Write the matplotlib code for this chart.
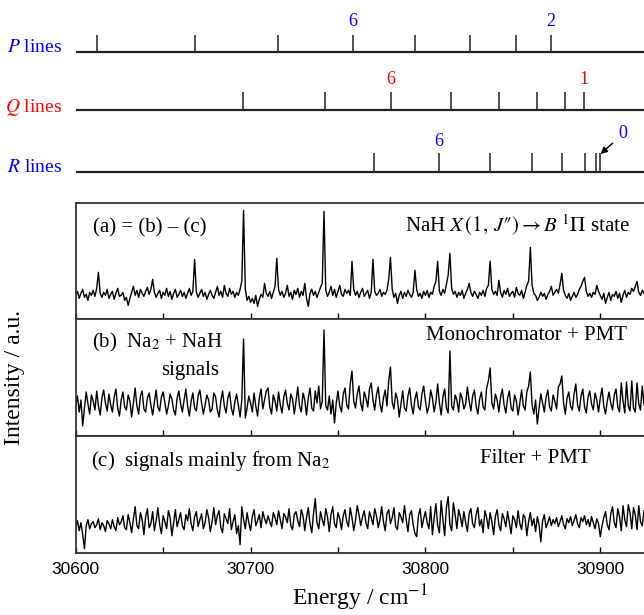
import numpy as np
import matplotlib
matplotlib.use('Agg')
import matplotlib.pyplot as plt
from matplotlib.ticker import MultipleLocator
from matplotlib.transforms import blended_transform_factory

plt.rcParams['font.family'] = ['Liberation Serif', 'DejaVu Serif']
plt.rcParams['mathtext.fontset'] = 'stix'

# ---------------- data ----------------
# line positions (cm^-1)
P_J = [2, 3, 4, 5, 6, 7, 8, 9]
P_lines = [30871.9, 30851.9, 30825.7, 30794.2, 30758.6, 30715.8, 30668.0, 30612.3]
Q_J = [1, 2, 3, 4, 5, 6, 7, 8]
Q_lines = [30890.7, 30879.9, 30863.7, 30841.9, 30814.6, 30780.2, 30742.6, 30695.9]
R_J = [0, 1, 2, 3, 4, 5, 6, 7]
R_lines = [30900.1, 30897.7, 30891.4, 30878.0, 30861.1, 30837.2, 30807.6, 30770.5]

# spectra, one point per cm^-1 starting at 30600
E_start = 30600
E_step = 1.0

spec_a = [
    24, 28, 21, 26, 30, 22, 25, 19, 27, 24,
    29, 23, 31, 47, 26, 22, 27, 24, 30, 21,
    25, 28, 20, 26, 31, 23, 24, 27, 19, 22,
    14, 21, 27, 33, 24, 29, 22, 30, 26, 23,
    28, 32, 25, 30, 40, 27, 22, 26, 29, 21,
    27, 24, 31, 23, 28, 20, 26, 30, 22, 25,
    29, 23, 27, 21, 26, 31, 24, 28, 60, 27,
    22, 26, 30, 23, 27, 20, 25, 29, 24, 21,
    27, 33, 24, 28, 22, 34, 26, 23, 31, 25,
    28, 22, 27, 24, 30, 38, 109, 30, 19, 23,
    17, 21, 16, 24, 13, 20, 25, 22, 36, 26,
    23, 28, 21, 27, 33, 61, 30, 24, 28, 22,
    26, 34, 23, 27, 20, 29, 25, 31, 22, 28,
    24, 36, 21, 13, 26, 30, 24, 28, 22, 27,
    32, 36, 108, 29, 23, 27, 33, 24, 30, 22,
    28, 34, 25, 23, 30, 26, 29, 24, 58, 30,
    24, 28, 22, 27, 31, 23, 26, 29, 21, 27,
    60, 28, 24, 26, 30, 23, 27, 25, 29, 40,
    62, 30, 22, 26, 16, 24, 28, 21, 27, 23,
    29, 25, 22, 27, 49, 30, 23, 26, 21, 28,
    24, 29, 22, 27, 25, 33, 38, 58, 28, 24,
    30, 26, 35, 44, 66, 31, 25, 28, 22, 27,
    24, 29, 21, 26, 30, 36, 27, 23, 28, 25,
    21, 27, 24, 29, 23, 31, 34, 58, 30, 25,
    28, 24, 39, 27, 22, 29, 25, 31, 23, 26,
    28, 22, 32, 26, 24, 29, 21, 27, 34, 38,
    72, 34, 26, 24, 19, 22, 27, 23, 26, 20,
    25, 28, 33, 24, 27, 30, 26, 35, 46, 29,
    24, 21, 26, 19, 23, 27, 22, 25, 30, 33,
    38, 42, 28, 23, 26, 22, 27, 25, 34, 28,
    24, 20, 26, 16, 22, 27, 19, 25, 23, 28,
    21, 26, 17, 24, 29, 22, 27, 25, 31, 28,
    33, 38, 27, 24, 29, 26,
]

spec_b = [
    30, 40, 24, 36, 10, 28, 44, 32, 22, 41,
    35, 26, 45, 30, 21, 38, 46, 33, 25, 42,
    31, 24, 39, 47, 28, 20, 36, 44, 29, 26,
    41, 35, 19, 33, 48, 30, 22, 40, 45, 27,
    24, 38, 43, 31, 21, 34, 46, 29, 25, 39,
    44, 33, 22, 30, 42, 37, 26, 21, 38, 45,
    32, 24, 36, 47, 30, 20, 35, 43, 28, 25,
    40, 46, 33, 22, 31, 41, 36, 24, 27, 43,
    39, 26, 19, 35, 45, 30, 23, 38, 44, 28,
    21, 34, 42, 31, 19, 36, 97, 18, 28, 40,
    33, 24, 43, 30, 20, 38, 47, 27, 36, 45,
    48, 29, 22, 41, 35, 25, 44, 31, 23, 39,
    46, 33, 26, 42, 37, 22, 35, 49, 30, 24,
    43, 36, 21, 38, 48, 28, 25, 45, 33, 50,
    27, 35, 106, 30, 26, 40, 22, 36, 13, 33,
    45, 30, 24, 42, 48, 31, 27, 52, 65, 35,
    28, 42, 50, 33, 25, 44, 38, 29, 47, 53,
    36, 26, 41, 49, 32, 24, 38, 46, 30, 55,
    69, 34, 27, 43, 37, 19, 32, 45, 28, 25,
    40, 48, 31, 22, 37, 44, 29, 26, 42, 50,
    35, 23, 30, 46, 38, 24, 34, 52, 33, 21,
    39, 47, 28, 23, 85, 30, 26, 41, 36, 24,
    43, 38, 27, 32, 49, 35, 25, 40, 46, 30,
    22, 37, 44, 29, 26, 48, 55, 68, 33, 27,
    42, 36, 24, 39, 47, 31, 23, 38, 45, 28,
    25, 41, 35, 21, 33, 46, 30, 26, 44, 50,
    64, 31, 22, 36, 12, 28, 42, 33, 24, 39,
    46, 29, 25, 41, 35, 27, 49, 52, 60, 33,
    22, 38, 44, 30, 26, 42, 52, 31, 25, 40,
    47, 29, 23, 39, 45, 32, 26, 43, 36, 24,
    38, 48, 30, 22, 35, 44, 33, 26, 41, 47,
    29, 24, 53, 35, 23, 54, 30, 25, 55, 28,
    24, 53, 32, 26, 50, 31,
]

spec_c = [
    26, 32, 22, 30, 18, 4, 27, 33, 24, 29,
    31, 25, 28, 34, 23, 30, 27, 21, 32, 29,
    24, 33, 26, 22, 35, 28, 31, 37, 25, 23,
    38, 30, 20, 34, 46, 27, 24, 40, 33, 18,
    36, 44, 25, 29, 41, 22, 32, 45, 28, 19,
    37, 31, 24, 42, 35, 17, 30, 43, 26, 33,
    40, 27, 23, 38, 32, 44, 29, 22, 36, 41,
    26, 33, 39, 24, 30, 43, 35, 21, 31, 45,
    28, 37, 42, 25, 20, 39, 34, 29, 44, 23,
    31, 38, 19, 27, 8, 46, 33, 24, 40, 30,
    22, 36, 43, 27, 32, 38, 25, 41, 34, 29,
    37, 31, 26, 40, 35, 28, 42, 33, 24, 39,
    36, 30, 44, 27, 23, 38, 41, 32, 26, 43,
    37, 22, 35, 45, 29, 20, 39, 54, 30, 24,
    41, 33, 27, 44, 36, 21, 38, 46, 29, 25,
    40, 34, 23, 37, 43, 31, 26, 45, 35, 22,
    32, 47, 38, 27, 36, 42, 30, 24, 41, 35,
    28, 44, 37, 25, 33, 46, 31, 22, 39, 43,
    29, 35, 45, 26, 23, 40, 36, 30, 47, 33,
    21, 38, 42, 28, 19, 16, 37, 44, 25, 34,
    41, 30, 24, 46, 18, 35, 49, 27, 20, 52,
    33, 17, 45, 56, 28, 22, 50, 38, 24, 43,
    36, 26, 41, 30, 21, 39, 44, 29, 25, 38,
    45, 27, 33, 20, 42, 35, 24, 40, 31, 18,
    36, 43, 28, 22, 39, 34, 26, 41, 30, 19,
    37, 33, 25, 42, 29, 23, 38, 35, 17, 31,
    40, 27, 34, 21, 36, 28, 11, 32, 38, 25,
    30, 36, 27, 33, 29, 35, 26, 31, 37, 28,
    24, 34, 30, 36, 27, 32, 38, 29, 25, 35,
    31, 37, 28, 33, 26, 36, 30, 24, 34, 29,
    16, 27, 35, 41, 28, 23, 39, 46, 30, 25,
    44, 36, 22, 47, 33, 26, 48, 40, 24, 45,
    38, 23, 47, 31, 27, 42,
]

xticks = [30600, 30700, 30800, 30900]
xmin, xmax = 30600, 30925

energy = E_start + E_step * np.arange(len(spec_a))

# ---------------- figure ----------------
W, H = 644, 615
fig = plt.figure(figsize=(W / 100, H / 100), dpi=100)

left = 75.7 / W
width = 1.0 - left

# stick diagram on top (y in pixel rows, 0 at top)
axt = fig.add_axes([left, 1 - 190 / H, width, 190 / H])
axt.set_xlim(xmin, xmax)
axt.set_ylim(190, 0)
axt.axis('off')
trans = blended_transform_factory(axt.transAxes, axt.transData)

rows = [
    (P_lines, P_J, 52, 17, 48, '$P$ lines', 'blue', {6: 22, 2: 22}),
    (Q_lines, Q_J, 110, 18, 107, '$Q$ lines', 'red', {6: 80, 1: 80}),
    (R_lines, R_J, 172, 19, 167, '$R$ lines', 'blue', {6: 141}),
]
for lines, js, base, h, ylab, label, col, marks in rows:
    axt.axhline(base, color='#222222', lw=1.6)
    axt.vlines(lines, base - h, base, color='#333333', lw=1.2)
    axt.text(-0.024, ylab, label, color=col, fontsize=14,
             ha='right', va='center', transform=trans, clip_on=False)
    for j, yy in marks.items():
        axt.text(lines[js.index(j)], yy, str(j), color=col, fontsize=13,
                 ha='center', va='center')

axt.annotate('0', xy=(R_lines[0], 154), xytext=(30913, 134),
             color='blue', fontsize=13, ha='center', va='center',
             arrowprops=dict(arrowstyle='-|>', color='black', lw=1.0,
                             mutation_scale=10, shrinkA=3, shrinkB=0))

# three stacked spectra
bottom = 1 - 552.7 / H
ph = (552.7 - 202.7) / 3 / H
axes = []
for k in range(3):
    ax = fig.add_axes([left, bottom + (2 - k) * ph, width, ph])
    axes.append(ax)

for ax, spec in zip(axes, [spec_a, spec_b, spec_c]):
    ax.plot(energy, spec, color='black', lw=1.0)
    ax.set_xlim(xmin, xmax)
    ax.set_ylim(0, 116.6)
    ax.set_yticks([])
    ax.xaxis.set_major_locator(MultipleLocator(100))
    ax.xaxis.set_minor_locator(MultipleLocator(50))
    ax.tick_params(axis='x', which='both', direction='in', length=4.5,
                   width=1.0, top=False, bottom=True, labelbottom=False)
    for s in ['left', 'top', 'bottom']:
        ax.spines[s].set_linewidth(1.3)
        ax.spines[s].set_color('#333333')
    ax.spines['right'].set_visible(False)

axc = axes[2]
axc.set_xticks(xticks)
axc.tick_params(axis='x', which='major', labelbottom=True, pad=7)
for lab in axc.get_xticklabels():
    lab.set_fontfamily('Liberation Sans')
    lab.set_fontsize(12.5)
axc.set_xlabel('Energy / cm$^{-1}$', fontsize=17, labelpad=4)

fig.text(15 / W, 1 - 377.7 / H, 'Intensity / a.u.', rotation=90,
         fontsize=17, ha='center', va='center')

axa, axb = axes[0], axes[1]
axa.text(0.030, 0.783, '(a) = (b) \u2013 (c)', fontsize=15,
         transform=axa.transAxes, ha='left', va='center')
axa.text(0.974, 0.809, "NaH $X\\,(1,\\,J\u2033)\\rightarrow B\\ ^{1}\\Pi$ state",
         fontsize=15, transform=axa.transAxes, ha='right', va='center')
axb.text(0.0287, 0.798, '(b)  Na$_2$ + NaH', fontsize=15,
         transform=axb.transAxes, ha='left', va='center')
axb.text(0.150, 0.56, 'signals', fontsize=15,
         transform=axb.transAxes, ha='left', va='center')
axb.text(0.970, 0.858, 'Monochromator + PMT', fontsize=15,
         transform=axb.transAxes, ha='right', va='center')
axc.text(0.027, 0.79, '(c)  signals mainly from Na$_2$', fontsize=15,
         transform=axc.transAxes, ha='left', va='center')
axc.text(0.712, 0.808, 'Filter + PMT', fontsize=15,
         transform=axc.transAxes, ha='left', va='center')

fig.savefig('out.png', dpi=100)
